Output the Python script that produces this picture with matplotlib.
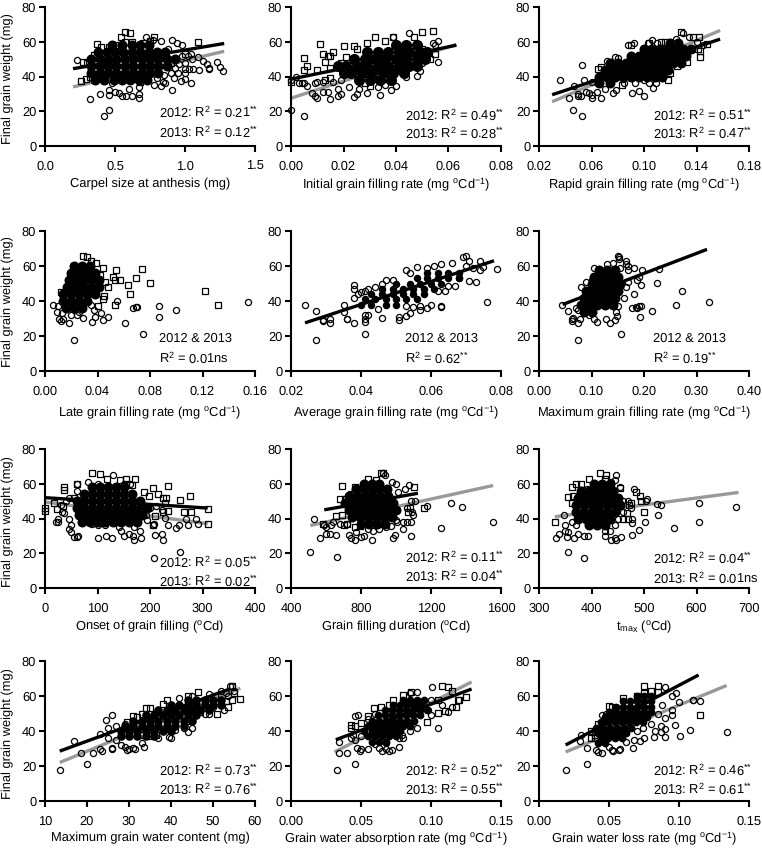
import matplotlib
matplotlib.use('Agg')
from matplotlib import pyplot as plt

plt.rcParams['font.family'] = ['Liberation Sans', 'DejaVu Sans']
plt.rcParams['mathtext.default'] = 'regular'
plt.rcParams['text.hinting'] = 'no_hinting'
plt.rcParams['font.size'] = 9.3

# open circles (2013), open squares (2012), and the saturated middle of each cloud
# core is {weight: [x, ...]}: the overlap there is solid so single grains cant be read
p1_circ = [(.42,17.5),(.46,21),(.32,27),(.23,49.5),(.39,30),(.46,29.5),(.46,32.5),(.5,31),(.53,30.5),(.55,29),(.58,28.5),(.62,28.5),(.67,27.5),(.67,30),(.67,34),(.6,33),(.48,36),(.78,35),(.83,34.5),(.86,36),(.91,32),(.92,39),(.97,37.5),(1.0,38.5),(1.04,36.5),(.84,37),(1.0,44.5),(1.03,44.5),(1.06,44.5),(1.1,44),(1.17,44.5),(1.17,45),(1.23,48.5),(1.25,45.5),(1.27,43),(1.16,47),(1.13,49),(1.09,51),(1.05,50),(1.0,48),(1.02,52),(1.04,53),(.98,58),(.91,61),(.94,59),(.83,60.5),(.77,61),(.72,62.5),(.95,42),(.93,45),(.9,42),(.85,41),(.8,39),(.88,56),(.98,52),(.96,47),(1.0,42)]
p1_sq = [(.57,65.5),(.61,65),(.54,62.5),(.78,63),(1.09,60),(.75,60.5),(.37,58.5),(.4,57),(.46,57),(.35,52.5),(.27,48.5),(.3,48),(.26,37.5),(.29,38.5),(.68,37),(.85,53),(1.0,53),(.7,59.5),(.62,60),(.5,58),(.35,45),(.32,40),(.9,48),(.57,60)]
p1_core = {38:[.36,.42,.49,.55,.61,.67,.73], 42:[.33,.39,.45,.51,.57,.63,.69,.75,.81], 46:[.33,.39,.45,.51,.57,.63,.69,.75,.81,.87], 50:[.33,.39,.45,.51,.57,.63,.69,.75,.81,.87,.93], 54:[.38,.44,.5,.56,.62,.68,.74,.8,.86], 58:[.48,.55,.62,.68,.74]}

p2_circ = [(.005,17.5),(0,21),(.008,30.5),(.009,29),(.01,27.5),(.012,31),(.014,31),(.015,27),(.018,28.5),(.019,30),(.024,28),(.025,30),(.029,30.5),(.034,29.5),(.038,32),(.04,34.5),(0,38),(.002,40),(.003,36.5),(.004,36.5),(.005,36),(.006,34.5),(.009,36.5),(.01,37),(.012,37),(.016,37),(.018,33),(.022,34),(.026,33),(.033,34),(.036,35),(.044,40),(.048,40.5),(.049,43),(.05,48),(.056,48.5),(.055,58),(.056,60.5),(.054,59.5),(.045,65),(.039,62.5),(.052,52),(.048,47),(.019,38)]
p2_sq = [(.011,58.5),(.005,50.5),(.006,46),(.005,44),(0,37),(.01,44),(.013,48.5),(.012,53),(.014,52),(.015,52),(.016,54),(.02,57.5),(.024,57.5),(.025,56),(.029,59),(.032,62.5),(.036,60.5),(.039,62.5),(.047,63),(.05,65.5),(.054,66),(.055,53),(.053,50),(.05,56),(.019,48),(.013,38),(.015,39),(.03,34.5),(.028,36),(.015,45),(.021,51),(.04,58)]
p2_core = {38:[.026,.03,.034,.038], 42:[.02,.023,.027,.031,.035,.039,.043], 46:[.018,.021,.025,.029,.033,.037,.041,.045,.048], 50:[.024,.028,.032,.036,.04,.044,.048,.051], 54:[.029,.033,.037,.041,.045,.049,.052], 58:[.04,.044,.048]}

p3_circ = [(.036,38),(.043,27.5),(.047,34.5),(.046,20.5),(.053,17.5),(.05,30),(.05,28.5),(.052,29),(.053,46.5),(.054,38),(.056,31),(.058,30.5),(.06,27.5),(.06,29.5),(.064,31),(.067,27.5),(.07,33),(.076,30.5),(.079,32),(.091,30.5),(.096,31.5),(.1,29),(.107,33.5),(.109,36),(.093,36),(.085,36),(.072,49),(.078,51),(.08,50.5),(.092,59),(.088,58),(.103,59),(.106,61),(.11,59),(.124,61.5),(.13,65),(.134,63),(.14,60),(.145,58),(.135,55),(.12,60),(.1,38),(.104,36.5),(.06,37)]
p3_sq = [(.128,65.5),(.142,63),(.137,62.5),(.148,58.5),(.143,51.5),(.133,48.5),(.127,50),(.118,38),(.083,35),(.065,44.5),(.067,45.5),(.09,58),(.113,60),(.116,60),(.104,59.5),(.143,54.5),(.141,56),(.125,46),(.12,42)]
p3_core = {36:[.066,.074], 40:[.066,.072,.078,.084,.09,.096,.102,.108,.114], 44:[.07,.076,.082,.088,.094,.1,.106,.112,.118], 48:[.074,.08,.086,.092,.098,.104,.11,.116,.122,.128], 52:[.09,.096,.102,.108,.114,.12,.126,.132], 56:[.1,.106,.112,.118,.124,.13,.136], 59:[.12,.126]}

p4_circ = [(.022,17.5),(.006,38),(.009,34),(.011,30),(.012,28.5),(.014,29.5),(.018,27.5),(.024,32),(.026,33.5),(.029,30.5),(.036,28),(.038,31),(.043,33),(.044,29),(.048,31),(.055,40),(.061,27.5),(.067,36),(.069,36.5),(.07,36.5),(.075,21),(.087,31),(.087,37),(.1,35),(.155,39.5),(.01,37),(.013,33),(.02,32),(.037,35),(.035,38)]
p4_sq = [(.029,65.5),(.032,65),(.035,63),(.039,62),(.044,59),(.054,57.5),(.074,58.5),(.069,53),(.08,50.5),(.057,52),(.053,52),(.052,54),(.063,49),(.065,44),(.053,38),(.122,46),(.132,37.5),(.048,48),(.046,51),(.045,43),(.044,41),(.04,37),(.012,45),(.042,55)]
p4_core = {36:[.016,.022,.028], 40:[.014,.02,.026,.032], 44:[.014,.02,.026,.032,.038], 48:[.017,.023,.029,.035,.041], 52:[.018,.024,.03,.036,.041], 56:[.02,.026,.032,.038], 60:[.022,.028,.034]}

p5_circ = [(.024,38),(.027,34.5),(.027,17.5),(.029,29),(.029,28.5),(.031,30),(.031,27.5),(.035,38),(.035,34),(.036,30),(.036,29.5),(.038,27.5),(.038,49),(.038,47),(.038,42),(.041,32),(.041,29.5),(.041,28),(.041,21),(.042,32),(.039,44),(.04,45),(.041,45.5),(.042,47),(.046,30.5),(.045,35.5),(.044,48),(.046,50),(.047,52),(.049,52),(.051,31),(.051,29),(.053,31.5),(.053,37),(.054,33),(.055,36.5),(.057,37),(.057,35),(.059,36),(.06,38),(.063,37),(.063,36.5),(.053,58),(.054,56),(.056,59.5),(.059,59),(.061,60),(.063,61),(.066,61.5),(.069,65),(.07,65.5),(.071,63),(.074,63),(.075,59.5),(.074,57.5),(.079,58.5),(.076,39.5),(.073,51),(.071,51.5),(.067,48.5),(.065,48.5),(.064,45.5),(.062,45.5),(.07,60),(.072,59),(.068,53)]
p5_sq = []
p5_core = {38:[.04,.043,.047,.05], 41:[.041,.044,.047,.05,.053,.056], 44:[.043,.046,.049,.052,.055,.058], 47:[.046,.049,.052,.055,.058,.061], 50:[.05,.054,.057,.06,.063], 53:[.056,.059,.062,.065,.068], 56:[.059,.062,.065,.068]}

p6_circ = [(.044,38),(.056,34.5),(.062,30),(.062,28.5),(.065,30.5),(.074,17.5),(.075,27.5),(.078,30),(.096,32),(.105,30),(.11,28),(.127,30),(.136,27.5),(.145,29),(.147,33.5),(.149,31.5),(.156,21),(.15,37),(.162,42),(.18,44),(.178,36),(.184,36.5),(.186,36),(.19,37),(.195,37),(.192,31),(.216,34.5),(.26,37.5),(.272,45.5),(.323,39.5),(.225,50.5),(.195,49),(.187,52),(.191,54),(.196,57.5),(.181,59),(.228,58.5),(.166,48),(.17,51),(.165,61),(.165,63),(.17,60),(.15,65.5),(.152,65),(.153,64),(.17,58),(.155,59),(.14,62),(.13,61),(.105,59),(.08,48),(.09,51),(.1,52),(.07,36),(.075,35)]
p6_sq = []
p6_core = {34:[.085,.1], 38:[.08,.095,.11,.125,.14], 42:[.085,.1,.115,.13,.145], 46:[.09,.105,.12,.135,.15], 50:[.1,.115,.13,.145,.155], 54:[.105,.12,.135,.15], 58:[.115,.13,.145]}

p7_circ = [(208,17.5),(258,20.5),(100,28.5),(128,28.5),(116,30),(170,27.5),(168,30),(160,31),(180,33),(183,29),(150,30),(145,33),(210,30.5),(222,31),(225,27.5),(63,30),(60,29.5),(56,29.5),(50,32),(45,34),(50,36),(45,40),(20,38),(24,38),(25,40),(33,44),(36,43),(31,48),(235,36),(250,34.5),(255,36.5),(273,36.5),(269,39.5),(288,40),(292,37),(207,37),(205,36),(228,40.5),(195,39),(192,42),(130,65),(100,60),(82,61),(60,56),(60,60),(40,50),(45,52),(150,60),(162,60),(200,46),(212,47),(222,45),(170,35),(140,35),(100,36),(115,36),(90,37)]
p7_sq = [(90,66),(105,65.5),(118,63),(143,62),(155,63),(172,62.5),(165,59),(155,60),(37,58),(37,56.5),(60,60),(18,49),(23,45.5),(0,46),(0,44.5),(35,47),(55,52),(188,55.5),(198,53),(205,57.5),(215,54),(235,58.5),(225,52),(230,52),(228,49),(235,44.5),(225,44),(258,50.5),(277,53),(265,43.5),(278,44),(310,45.5),(310,37),(210,41.5),(205,36.5),(185,45)]
p7_core = {38:[70,85,100,115,130,145,160,175], 42:[65,80,95,110,125,140,155,170,185], 46:[60,75,90,105,120,135,150,165,180,195], 50:[60,75,90,105,120,135,150,165,180], 54:[75,90,105,120,135,150,165], 58:[90,105,120,135,150]}

p8_circ = [(510,21),(530,39.5),(565,29),(600,31),(620,31),(660,18),(655,30.5),(730,30.5),(745,28.5),(765,27.5),(865,27.5),(800,29.5),(815,30),(985,29),(995,30.5),(1085,30),(1040,34),(945,35),(970,35.5),(1000,39),(1040,38),(1060,38),(1085,38),(1005,38),(1175,47),(1260,34.5),(1315,49),(1380,46.5),(1555,38),(1075,59.5),(1050,57),(1000,60),(935,65),(925,66),(975,61),(1010,55),(1090,44),(1100,42),(1110,50),(1060,46),(1085,50),(630,36),(600,35),(590,36),(640,38),(680,37),(720,37),(770,32),(840,34),(870,33),(900,34)]
p8_sq = [(925,66),(915,66),(690,58.5),(1105,58),(1160,46),(580,37),(720,37),(705,36.5),(765,35),(795,35.5),(655,41.5),(690,42),(680,51),(710,51),(840,63),(885,62),(765,58),(745,54),(1070,44),(1080,46)]
p8_core = {37:[800,845,890,935], 41:[750,795,840,885,930,975], 45:[730,775,820,865,910,955,1000], 49:[710,755,800,845,890,935,980], 53:[730,775,820,865,910,955], 57:[770,815,860,905,950], 60:[815,860,905]}

p9_circ = [(385,17.5),(356,21),(332,29),(338,31),(347,42),(350,36),(350,33),(355,32),(354,29.5),(367,28.5),(375,31),(385,30),(393,30),(362,38),(370,36),(425,30),(437,27.5),(447,27.5),(445,28.5),(457,29.5),(477,30.5),(491,33.5),(502,38),(478,37.5),(445,36),(425,33),(435,33),(478,40),(526,42),(558,34.5),(604,38),(604,49),(676,46.5),(532,47.5),(525,48.5),(505,51.5),(503,50),(480,57),(447,65),(445,62),(437,61),(455,58),(470,50),(460,50),(475,46),(460,44),(450,40),(392,57)]
p9_sq = [(330,38),(417,66),(427,65),(395,63),(363,58),(370,60),(380,60),(355,52.5),(362,49),(365,53),(485,55.5),(493,53),(475,49),(495,50),(500,43.5),(472,48),(455,57.5),(467,43),(460,40),(470,40),(425,63)]
p9_core = {36:[395,410,425], 40:[375,390,405,420,435], 44:[370,385,400,415,430,445], 48:[370,385,400,415,430,445,455], 52:[375,390,405,420,435,450], 56:[380,395,410,425,440], 60:[405,420,435]}

p10_circ = [(13.5,17.5),(17,34.5),(18.5,27.5),(20,21),(21.5,27.5),(23,38.5),(23,30),(23.5,28.5),(24.5,46.5),(25,42),(26,49),(26,30.5),(26,30),(28,32),(29,31),(29.5,29),(30,30),(31,30.5),(31.5,29.5),(33,33),(33.5,31),(35,37),(37,36),(38.5,41),(39.5,36.5),(40,36),(41,40.5),(43,42),(44,39.5),(45,42),(44,45.5),(48,50),(49,50),(42,59),(45,60),(49,61),(52.5,52),(53,62),(52,63),(54.5,65.5),(54,65.5),(53.5,60),(55,63),(27,43),(29,44),(25,36),(27,35),(31,44),(33,38),(50,54),(47,52),(36,50)]
p10_sq = [(54.5,66),(46.5,62.5),(44,60),(38,55.5),(39,58),(34,53),(35,53),(33,50),(31,48.5),(32,48),(29.5,45),(36.5,37.5),(51,49.5),(56.5,58.5),(54.5,58),(53.5,53.5),(53,57),(47,51),(55,62),(50.5,60)]
p10_core = {37:[28,30,32,34,36], 40:[28,30,32,34,36,38,40], 43:[29,31,33,35,37,39,41,43], 46:[31,33,35,37,39,41,43,45], 49:[34,36,38,40,42,44,46], 52:[37,39,41,43,45,47,49], 55:[40,42,44,46,48,50,52], 58:[44,46,48,50,52]}

p11_circ = [(.033,17.5),(.034,34),(.034,27.5),(.04,27.5),(.046,21),(.046,48.5),(.048,49),(.043,36),(.046,35),(.047,30.5),(.05,29.5),(.049,28.5),(.055,30),(.06,32.5),(.063,30.5),(.065,28.5),(.068,30),(.07,28.5),(.072,29),(.068,33),(.077,36),(.077,31),(.079,38),(.08,36),(.085,40),(.09,42),(.105,42),(.1,49),(.098,52),(.1,58),(.101,65),(.09,62.5),(.085,62),(.108,55),(.112,51),(.115,53.5),(.06,50),(.055,47),(.05,37),(.044,38)]
p11_sq = [(.043,43.5),(.043,42),(.046,43),(.05,44.5),(.055,48.5),(.059,53),(.064,53.5),(.07,55),(.073,58),(.08,60.5),(.086,62.5),(.108,66),(.112,65),(.115,63),(.119,58),(.12,58),(.118,54),(.125,59.5),(.11,51.5),(.105,50.5),(.097,45),(.105,58)]
p11_core = {34:[.058,.063,.068], 37:[.055,.06,.065,.07,.075], 40:[.052,.058,.063,.068,.073,.078], 43:[.055,.06,.065,.07,.075,.08,.085], 46:[.058,.063,.068,.073,.078,.083,.088], 49:[.062,.067,.072,.077,.082,.087,.092], 52:[.067,.072,.077,.082,.087,.092,.097], 55:[.073,.078,.083,.088,.093], 58:[.08,.085,.09,.095]}

p12_circ = [(.019,17.5),(.034,21),(.029,34.5),(.03,38),(.034,30.5),(.041,29),(.042,28),(.045,27.5),(.05,31),(.052,29),(.053,28.5),(.057,29),(.058,30),(.062,33.5),(.067,30.5),(.068,35),(.072,34.5),(.075,36),(.082,36.5),(.09,36.5),(.101,37),(.108,40.5),(.097,43.5),(.134,39.5),(.09,41),(.087,39.5),(.083,40),(.08,44),(.087,43),(.115,57),(.11,58),(.11,57.5),(.1,56.5),(.098,61.5),(.09,65),(.095,60),(.095,49),(.09,47.5),(.085,50),(.095,52),(.088,55),(.042,40),(.045,49),(.048,50),(.06,40),(.07,40),(.074,42)]
p12_sq = [(.075,65.5),(.085,65.5),(.08,63),(.085,62.5),(.075,62),(.07,60),(.05,54.5),(.052,54),(.06,59),(.115,49),(.04,38),(.04,36),(.037,36),(.037,40),(.042,44)]
p12_core = {33:[.042,.047], 36:[.044,.049,.054,.059], 39:[.042,.047,.052,.057,.062], 42:[.041,.046,.051,.056,.061,.066], 45:[.044,.049,.054,.059,.064,.069,.074], 48:[.047,.052,.057,.062,.067,.072,.077], 51:[.05,.055,.06,.065,.07,.075,.08], 54:[.055,.06,.065,.07,.075,.08], 57:[.06,.065,.07,.075,.08], 60:[.07,.075,.08]}

# fitted lines as read: x0, y0, x1, y1
p1_black, p1_grey = (.2,44.5,1.28,59), (.2,34,1.28,54.5)
p2_black, p2_grey = (0,38.5,.063,58), (0,27.5,.063,58.5)
p3_black, p3_grey = (.03,29.5,.158,61.5), (.03,25.5,.158,66.5)
p5_black = (.024,27.5,.078,63)
p6_black = (.045,38,.32,69.5)
p7_black, p7_grey = (0,52,310,46), (0,49.5,310,37)
p8_black, p8_grey = (590,45,1125,54.5), (510,36,1555,59)
p9_grey = (330,41,680,55)
p10_black, p10_grey = (13.5,28.5,54,64), (13.5,22,56.5,64.5)
p11_black, p11_grey = (.032,35,.129,64), (.031,28,.129,68)
p12_black, p12_grey = (.019,32,.114,72), (.019,28,.134,66)

xlabels = ['Carpel size at anthesis (mg)', 'Initial grain filling rate (mg $^{o}$Cd$^{-1}$)',
           'Rapid grain filling rate (mg $^{o}$Cd$^{-1}$)', 'Late grain filling rate (mg $^{o}$Cd$^{-1}$)',
           'Average grain filling rate (mg $^{o}$Cd$^{-1}$)', 'Maximum grain filling rate (mg $^{o}$Cd$^{-1}$)',
           'Onset of grain filling ($^{o}$Cd)', 'Grain filling duration ($^{o}$Cd)', 't$_{max}$ ($^{o}$Cd)',
           'Maximum grain water content (mg)', 'Grain water absorption rate (mg $^{o}$Cd$^{-1}$)',
           'Grain water loss rate (mg $^{o}$Cd$^{-1}$)']
xticks = [[0.0,0.5,1.0,1.5], [0,.02,.04,.06,.08], [.02,.06,.10,.14,.18],
          [0,.04,.08,.12,.16], [.02,.04,.06,.08], [0,.1,.2,.3,.4],
          [0,100,200,300,400], [400,800,1200,1600], [300,400,500,600,700],
          [10,20,30,40,50,60], [0,.05,.10,.15], [0,.05,.10,.15]]
xfmt = ['%.1f','%.2f','%.2f','%.2f','%.2f','%.2f','%d','%d','%d','%d','%.2f','%.2f']
yticks = [0,20,40,60,80]

def r2(year, val):
    return '%s: R$^{2}$ = %s' % (year, val)

def r2s(val):
    return val + '$^{{*}{*}}$'

notes = [[r2('2012',r2s('0.21')), r2('2013',r2s('0.12'))], [r2('2012',r2s('0.49')), r2('2013',r2s('0.28'))],
         [r2('2012',r2s('0.51')), r2('2013',r2s('0.47'))], ['2012 & 2013', 'R$^{2}$ = 0.01ns'],
         ['2012 & 2013', 'R$^{2}$ = '+r2s('0.62')], ['2012 & 2013', 'R$^{2}$ = '+r2s('0.19')],
         [r2('2012',r2s('0.05')), r2('2013',r2s('0.02'))], [r2('2012',r2s('0.11')), r2('2013',r2s('0.04'))],
         [r2('2012',r2s('0.04')), r2('2013','0.01ns')], [r2('2012',r2s('0.73')), r2('2013',r2s('0.76'))],
         [r2('2012',r2s('0.52')), r2('2013',r2s('0.55'))], [r2('2012',r2s('0.46')), r2('2013',r2s('0.61'))]]

circ = [p1_circ,p2_circ,p3_circ,p4_circ,p5_circ,p6_circ,p7_circ,p8_circ,p9_circ,p10_circ,p11_circ,p12_circ]
sq = [p1_sq,p2_sq,p3_sq,p4_sq,p5_sq,p6_sq,p7_sq,p8_sq,p9_sq,p10_sq,p11_sq,p12_sq]
core = [p1_core,p2_core,p3_core,p4_core,p5_core,p6_core,p7_core,p8_core,p9_core,p10_core,p11_core,p12_core]
black = [p1_black,p2_black,p3_black,None,p5_black,p6_black,p7_black,p8_black,None,p10_black,p11_black,p12_black]
grey = [p1_grey,p2_grey,p3_grey,None,None,None,p7_grey,p8_grey,p9_grey,p10_grey,p11_grey,p12_grey]

# pixel layout of the page
W, H = 762, 849
col_x = [(45,255), (291,501), (539,749)]
row_y = [(7,146), (231,371), (449,588), (661,801)]
label_y = [184, 412, 627, 838]
ylabel_y = [79, 302, 522, 734]
note_x = [159, 405, 653]
note_y = [(112,132), (115,133), (115,133), (339,358), (339,358), (339,358),
          (562,581), (557,576), (558,578), (770,789), (770,789), (770,789)]
core_ms = [7.2,8,7.2,7.2,5.4,7.2,7.2,7.2,7.2,6.2,5.6,5.6]

fig = plt.figure(figsize=(W/100, H/100), dpi=100)

for i in range(12):
    r, c = divmod(i, 3)
    x0, x1 = col_x[c]
    y0, y1 = row_y[r]
    ax = fig.add_axes([x0/W, 1-y1/H, (x1-x0)/W, (y1-y0)/H])
    ax.set_xlim(xticks[i][0], xticks[i][-1])
    ax.set_ylim(0, 80)
    for s in ['top','right']:
        ax.spines[s].set_visible(False)
    for s in ['left','bottom']:
        ax.spines[s].set_linewidth(1.5)
    ax.set_xticks(xticks[i])
    ax.set_xticklabels([xfmt[i] % t for t in xticks[i]])
    ax.set_yticks(yticks)
    ax.tick_params(axis='x', length=4.3, width=1.5, pad=6, labelsize=9.3)
    ax.tick_params(axis='y', length=4.3, width=1.5, pad=2, labelsize=9.3)

    if grey[i]:
        g = grey[i]
        ax.plot([g[0],g[2]], [g[1],g[3]], color='#999999', lw=2.4, solid_capstyle='butt', zorder=2)
    if black[i]:
        b = black[i]
        ax.plot([b[0],b[2]], [b[1],b[3]], color='black', lw=2.4, solid_capstyle='butt', zorder=2)

    cx = [v for wt, row in core[i].items() for v in row]
    cy = [wt for wt, row in core[i].items() for v in row]
    ax.plot(cx, cy, ls='none', marker='o', ms=core_ms[i], mfc='black', mec='none', zorder=3)
    if sq[i]:
        ax.plot([p[0] for p in sq[i]], [p[1] for p in sq[i]], ls='none', marker='s', ms=4.2,
                mfc='none', mec='black', mew=0.9, clip_on=False, zorder=4)
    ax.plot([p[0] for p in circ[i]], [p[1] for p in circ[i]], ls='none', marker='o', ms=4.4,
            mfc='none', mec='black', mew=0.9, clip_on=False, zorder=4)

    fig.text((x0+x1)/2/W, 1-label_y[r]/H, xlabels[i], ha='center', va='center', fontsize=9.3)
    for line, ny in zip(notes[i], note_y[i]):
        fig.text(note_x[c]/W, 1-ny/H, line, ha='left', va='center', fontsize=9.3)
    if c == 0:
        fig.text(8/W, 1-ylabel_y[r]/H, 'Final grain weight (mg)', rotation=90, ha='center', va='center', fontsize=9.3)

fig.savefig('out.png', dpi=100)
